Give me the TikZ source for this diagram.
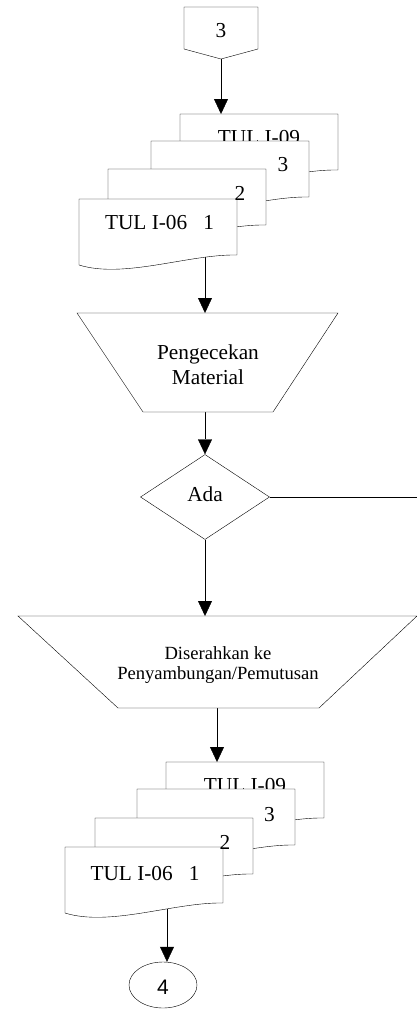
\documentclass[tikz,border=0pt]{standalone}
\usepackage{fontspec}
\setmainfont{Liberation Serif}
\newfontfamily\sansf{Liberation Sans}
\usetikzlibrary{arrows.meta,shapes.geometric,calc}
\pgfdeclarelayer{bg}
\pgfsetlayers{bg,main}
\newcommand\flowdoc[2]{\filldraw[docshape] (#1,#2) -- (#1+158,#2) -- (#1+158,#2+56) .. controls (#1+110,#2+55) and (#1+45,#2+80) .. (#1,#2+66) -- cycle;}
\begin{document}
\begin{tikzpicture}[x=1pt,y=-1pt,line width=1.4pt,
  docshape/.style={draw=black,fill=white,line join=miter},
  txt/.style={font=\fontsize{21.3}{25}\selectfont,inner sep=0},
  txtsmall/.style={font=\fontsize{18.6}{19.5}\selectfont,inner sep=0},
  arr/.style={-{Triangle[length=15pt,width=14pt]}},
  box/.style={inner sep=0,outer sep=0,draw=none}]
\useasboundingbox (0,0) rectangle (417,1009);
\begin{pgfonlayer}{bg}
  \fill[white] (0,0) rectangle (417,1009);
\end{pgfonlayer}

% off-page connector 3
\node[box,minimum width=74,minimum height=42] (c3) at (221,28) {};
\coordinate (c3tip) at (221,59);
\draw[fill=white] (c3.north west) -- (c3.north east) -- (c3.south east) -- (c3tip) -- (c3.south west) -- cycle;
\node[txt] (c3t) at (221,31) {3};

% stack 1
\coordinate (s1top) at (221,114);
\coordinate (s1out) at (205,250);
\flowdoc{180}{114}
\node[txt,anchor=base] (s1a) at (259,144) {TUL I-09};
\flowdoc{151}{141}
\node[txt,anchor=base] (s1b) at (283,171) {3};
\flowdoc{108}{169}
\flowdoc{79}{199}
\node[txt,anchor=base] (s1c) at (240,200) {2};
\node[txt,anchor=base] (s1d) at (159.5,229) {TUL I-06\ \ \ 1};

% trapezoid 1
\node[box,minimum width=261,minimum height=99] (pm) at (207.5,362.5) {};
\draw[fill=white] (pm.north west) -- (pm.north east) -- ($(pm.south east)+(-65,0)$) -- ($(pm.south west)+(66,0)$) -- cycle;
\node[txt,align=center] (pmt) at (208,365) {Pengecekan\\Material};

% decision
\node[draw,fill=white,diamond,minimum width=129,minimum height=85,inner sep=0] (ada) at (205,497) {};
\node[txt] (adat) at (205,494) {Ada};
\coordinate (adaR) at (417,497);

% trapezoid 2
\node[box,minimum width=399,minimum height=92] (ds) at (217.5,662) {};
\draw[fill=white] (ds.north west) -- (ds.north east) -- ($(ds.south east)+(-98,0)$) -- ($(ds.south west)+(100,0)$) -- cycle;
\node[txtsmall,align=center] (dst) at (218,665) {Diserahkan ke\\Penyambungan/Pemutusan};

% stack 2
\coordinate (s2top) at (217,762);
\coordinate (s2out) at (167,895);
\flowdoc{166}{762}
\node[txt,anchor=base] (s2a) at (245,792) {TUL I-09};
\flowdoc{137}{789}
\node[txt,anchor=base] (s2b) at (269.5,821) {3};
\flowdoc{95}{818}
\flowdoc{65}{847}
\node[txt,anchor=base] (s2c) at (225,849) {2};
\node[txt,anchor=base] (s2d) at (145,880) {TUL I-06\ \ \ 1};

% off-page connector 4
\node[draw,fill=white,ellipse,minimum width=68,minimum height=46,inner sep=0] (ov) at (163,985) {};
\node[font=\sansf\fontsize{21}{24}\selectfont,inner sep=0] (ovt) at (163,987) {4};

% connectors
\begin{pgfonlayer}{bg}
  \draw[arr] (c3tip) -- (s1top);
  \draw[arr] (s1out) -- (s1out |- pm.north);
  \draw[arr] (ada.north |- pm.south) -- (ada.north);
  \draw (ada.east) -- (adaR);
  \draw[arr] (ada.south) -- (ada.south |- ds.north);
  \draw[arr] (s2top |- ds.south) -- (s2top);
  \draw[arr] (s2out) -- (s2out |- ov.north);
\end{pgfonlayer}
\end{tikzpicture}
\end{document}
